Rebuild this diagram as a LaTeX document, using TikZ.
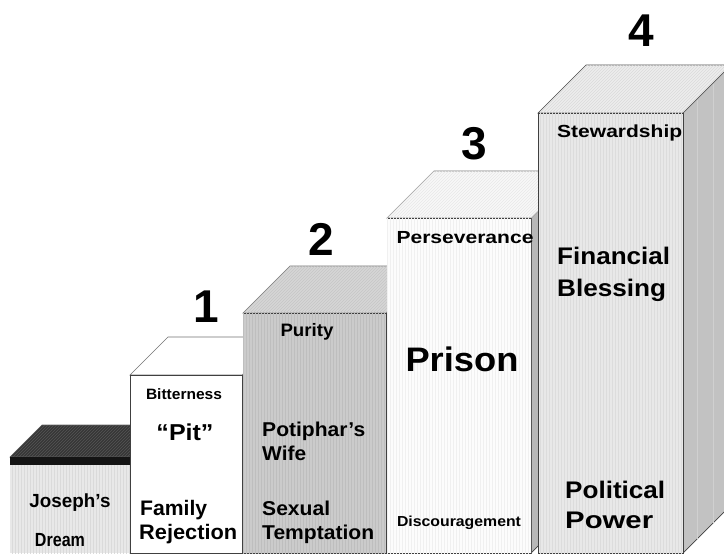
\documentclass[tikz,border=0pt]{standalone}
\usepackage{fontspec}
\usepackage{graphicx}
\setmainfont{Liberation Sans}
\usetikzlibrary{patterns}
\newcommand\strw[3]{{\fontsize{#1}{#1}\selectfont\resizebox{#2pt}{\height}{#3}}}
\newcommand\prism[8]{%
  \path[#8] (#2,#3) -- (#2+#5,#3-#5) -- (#2+#5,#4-#5) -- (#2,#4) -- cycle;
  \path[#7] (#1,#3) -- (#1+#5,#3-#5) -- (#2+#5,#3-#5) -- (#2,#3) -- cycle;
  \path[#6] (#1,#3) rectangle (#2,#4);
}
\definecolor{fzero}{HTML}{E8E8E8}
\definecolor{lzero}{HTML}{DADADA}
\definecolor{tzero}{HTML}{363636}
\definecolor{mzero}{HTML}{555555}
\definecolor{ftwo}{HTML}{CBCBCB}
\definecolor{ltwo}{HTML}{BEBEBE}
\definecolor{ttwo}{HTML}{D6D6D6}
\definecolor{mtwo}{HTML}{C6C6C6}
\definecolor{fthree}{HTML}{FCFCFC}
\definecolor{lthree}{HTML}{F0F0F0}
\definecolor{tthree}{HTML}{F8F8F8}
\definecolor{mthree}{HTML}{E8E8E8}
\definecolor{sthree}{HTML}{B8B8B8}
\definecolor{ffour}{HTML}{E8E8E8}
\definecolor{lfour}{HTML}{DCDCDC}
\definecolor{tfour}{HTML}{EDEDED}
\definecolor{mfour}{HTML}{DADADA}
\definecolor{sfour}{HTML}{C2C2C2}
\definecolor{lside}{HTML}{D0D0D0}
\begin{document}
\begin{tikzpicture}[x=1pt,y=-1pt,
  lbl/.style={inner sep=0pt, font=\bfseries},
  edge/.style={draw=black!75, line width=0.7pt},
  vlines/.style={postaction={pattern=vertical lines, pattern color=#1}},
  dlines/.style={postaction={pattern=north east lines, pattern color=#1}},
]
\useasboundingbox (0,0) rectangle (724,554);
\fill[white] (0,0) rectangle (724,554);

% box 0
\prism{10}{140}{457}{553}{32}
  {fill=fzero, vlines=lzero}
  {fill=tzero, dlines=mzero, draw=black!60, line width=0.6pt}
  {fill=tzero}
\fill[black!92] (10,457) rectangle (140,465);

% box 1
\prism{130}{242}{375}{553}{38}
  {fill=white, edge}
  {fill=white, draw=black!55, line width=0.7pt}
  {fill=ftwo, edge}

% box 2
\prism{243}{386}{313}{553}{47}
  {fill=ftwo, vlines=ltwo, edge}
  {fill=ttwo, dlines=mtwo, draw=black!55, line width=0.7pt}
  {fill=sthree, edge}

% box 3
\prism{387}{531}{218}{553}{47}
  {fill=fthree, vlines=lthree, edge}
  {fill=tthree, dlines=mthree, draw=black!55, line width=0.7pt}
  {fill=sthree, edge}

% box 4
\prism{538}{683}{113}{553}{48}
  {fill=ffour, vlines=lfour, edge}
  {fill=tfour, dlines=mfour, draw=black!70, line width=0.7pt}
  {fill=sfour, edge}
\draw[lside, line width=0.6pt] (697,100) -- (697,540) (713,84) -- (713,524);

% step numbers
\node[lbl, anchor=base] (n1) at (206,322) {\fontsize{46}{46}\selectfont 1};
\node[lbl, anchor=base] (n2) at (321,255) {\fontsize{46}{46}\selectfont 2};
\node[lbl, anchor=base] (n3) at (474,159) {\fontsize{46}{46}\selectfont 3};
\node[lbl, anchor=base] (n4) at (641,46) {\fontsize{46}{46}\selectfont 4};

% box 0 labels
\node[lbl, anchor=base] (josephs) at (70,507) {\strw{19}{81}{Joseph’s}};
\node[lbl, anchor=base] (dream) at (60,546) {\strw{19}{50}{Dream}};

% box 1 labels
\node[lbl, anchor=base] (bitter) at (184,399) {\strw{15}{76}{Bitterness}};
\node[lbl, anchor=base] (pit) at (185,440) {\strw{23}{57}{“Pit”}};
\node[lbl, anchor=base west] (family) at (140,515) {\strw{21}{67}{Family}};
\node[lbl, anchor=base west] (reject) at (139,539) {\strw{21}{98}{Rejection}};

% box 2 labels
\node[lbl, anchor=base] (purity) at (307,336) {\strw{18}{53}{Purity}};
\node[lbl, anchor=base west] (poti) at (262,436) {\strw{20}{103}{Potiphar’s}};
\node[lbl, anchor=base west] (wife) at (262,460) {\strw{20}{44}{Wife}};
\node[lbl, anchor=base west] (sexual) at (262,515) {\strw{20}{68}{Sexual}};
\node[lbl, anchor=base west] (tempt) at (262,539) {\strw{20}{112}{Temptation}};

% box 3 labels
\node[lbl, anchor=base] (persev) at (465,243) {\strw{17.5}{137}{Perseverance}};
\node[lbl, anchor=base] (prison) at (462,371) {\strw{34}{113}{Prison}};
\node[lbl, anchor=base] (discour) at (459,526) {\strw{14.5}{124}{Discouragement}};

% box 4 labels
\node[lbl, anchor=base west] (steward) at (557,137) {\strw{17.5}{125}{Stewardship}};
\node[lbl, anchor=base west] (finance) at (557,264) {\strw{24}{113}{Financial}};
\node[lbl, anchor=base west] (bless) at (557,296) {\strw{24}{109}{Blessing}};
\node[lbl, anchor=base west] (polit) at (565,498) {\strw{24}{100}{Political}};
\node[lbl, anchor=base west] (power) at (565,528) {\strw{24}{88}{Power}};
\end{tikzpicture}
\end{document}
